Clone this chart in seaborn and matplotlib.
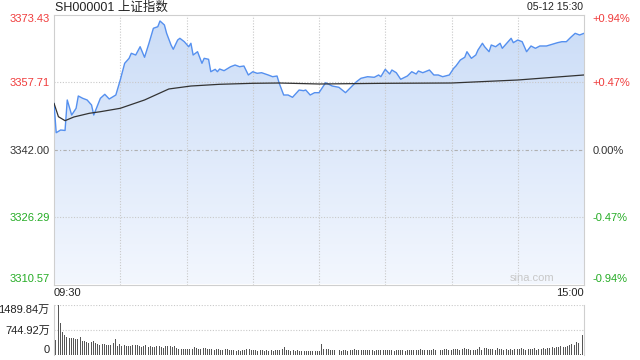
import numpy as np
import pandas as pd
import matplotlib
matplotlib.use("Agg")
import matplotlib.pyplot as plt
from matplotlib.patches import PathPatch
from matplotlib.colors import LinearSegmentedColormap
import seaborn as sns

# ---------------- data ----------------
title = "SH000001 上证指数"
stamp = "05-12 15:30"
prev_close = 3342.00
y_ticks = [3310.57, 3326.29, 3342.00, 3357.71, 3373.43]
y_tick_labels = ["3310.57", "3326.29", "3342.00", "3357.71", "3373.43"]
pct_labels = ["-0.94%", "-0.47%", "0.00%", "+0.47%", "+0.94%"]
time_labels = ["09:30", "15:00"]
vol_ticks = [0, 744.92, 1489.84]
vol_tick_labels = ["0", "744.92万", "1489.84万"]

price_min = [0, 1, 3, 5, 6, 8, 10, 11, 13, 15, 17, 18, 21, 23, 25, 28, 30, 32, 34, 35,
             37, 39, 41, 43, 45, 47, 48, 50, 51, 53, 54, 56, 57, 59, 61, 62, 63, 65, 67, 68,
             70, 71, 73, 74, 75, 77, 80, 82, 84, 86, 88, 90, 92, 94, 97, 99, 101, 102, 104, 106,
             108, 111, 113, 114, 116, 118, 120, 123, 126, 129, 132, 135, 137, 139, 142, 145, 147, 148, 150, 152,
             153, 155, 157, 160, 162, 164, 165, 167, 170, 172, 174, 176, 179, 181, 182, 184, 186, 187, 189, 191,
             192, 194, 195, 197, 198, 200, 202, 203, 205, 207, 208, 210, 212, 214, 216, 218, 220, 223, 226, 228,
             230, 232, 234, 236, 238, 240]
price_val = [3352.76, 3345.91, 3346.54, 3346.43, 3353.53, 3350.03, 3351.59, 3354.46, 3353.92, 3353.53,
             3352.36, 3350.03, 3353.92, 3354.85, 3353.76, 3354.69, 3358.18, 3362.07, 3363.23, 3364.40,
             3364.00, 3365.93, 3363.47, 3366.73, 3370.22, 3370.59, 3371.92, 3370.99, 3369.05, 3366.33,
             3365.33, 3367.49, 3367.89, 3367.10, 3365.93, 3366.73, 3364.00, 3364.77, 3362.07, 3363.23,
             3363.00, 3360.11, 3360.67, 3360.11, 3360.74, 3360.35, 3361.28, 3361.67, 3361.28, 3361.44,
             3359.35, 3360.11, 3359.74, 3359.88, 3359.35, 3358.95, 3359.11, 3357.41, 3354.69, 3354.69,
             3354.15, 3355.85, 3355.69, 3355.85, 3354.69, 3355.23, 3355.23, 3357.55, 3356.78, 3356.48,
             3355.23, 3356.78, 3357.79, 3358.58, 3358.95, 3358.81, 3359.35, 3358.95, 3360.67, 3359.58,
             3360.51, 3359.88, 3358.35, 3359.11, 3360.11, 3359.58, 3360.28, 3359.88, 3360.51, 3359.35,
             3359.35, 3358.95, 3359.35, 3360.91, 3361.44, 3362.84, 3363.47, 3364.77, 3363.23, 3364.00,
             3365.17, 3366.73, 3365.93, 3364.77, 3366.33, 3365.93, 3366.73, 3365.56, 3366.73, 3367.89,
             3366.87, 3367.49, 3367.10, 3364.77, 3366.10, 3365.56, 3366.10, 3366.10, 3366.56, 3366.87,
             3367.10, 3367.10, 3368.12, 3369.05, 3368.66, 3369.05]

avg_min = [0, 2, 5, 9, 16, 21, 30, 41, 52, 62, 75, 90, 102, 120, 150, 180, 210, 240]
avg_val = [3352.76, 3349.64, 3348.71, 3349.57, 3350.43, 3350.80, 3351.59, 3353.53, 3356.09,
           3356.78, 3357.18, 3357.41, 3357.48, 3357.25, 3357.41, 3357.48, 3358.18, 3359.35]

vol_min = list(range(241))
vol_val = [447, 1490, 944, 676, 606, 546, 506, 497, 497, 477,
           470, 546, 427, 407, 377, 357, 397, 427, 357, 328,
           308, 318, 328, 300, 290, 295, 348, 487, 280, 330,
           260, 300, 280, 255, 270, 290, 300, 310, 270, 250,
           280, 290, 250, 280, 250, 230, 260, 270, 240, 215,
           270, 280, 260, 250, 270, 200, 190, 185, 180, 185,
           175, 180, 190, 230, 215, 170, 180, 200, 210, 175,
           165, 170, 160, 175, 190, 150, 160, 170, 180, 160,
           140, 135, 130, 145, 130, 140, 150, 185, 170, 160,
           140, 135, 130, 140, 135, 130, 145, 130, 140, 130,
           150, 140, 145, 165, 230, 145, 135, 130, 140, 130,
           135, 125, 130, 120, 125, 130, 120, 115, 130, 125,
           120, 330, 180, 170, 185, 150, 160, 145, 175, 140,
           130, 135, 140, 125, 150, 140, 165, 145, 150, 135,
           160, 150, 140, 135, 145, 130, 150, 155, 140, 160,
           145, 135, 140, 150, 130, 145, 140, 135, 150, 130,
           140, 155, 145, 160, 150, 140, 165, 150, 145, 155,
           135, 150, 170, 160, 150, 140, 145, 165, 180, 155,
           160, 170, 175, 165, 150, 180, 200, 185, 170, 150,
           145, 160, 190, 230, 160, 200, 210, 180, 190, 170,
           160, 195, 180, 170, 150, 170, 160, 180, 150, 170,
           190, 165, 200, 175, 160, 170, 175, 165, 195, 160,
           170, 185, 200, 190, 210, 220, 240, 210, 250, 230,
           260, 240, 250, 280, 300, 320, 310, 400, 360, 40,
           606]

# ---------------- style ----------------
sns.set_theme(style="white")
plt.rcParams["font.family"] = ["Liberation Sans", "Noto Sans CJK SC", "DejaVu Sans"]

RED = "#f03c3c"
GREEN = "#25ac25"
GRID = "#c9c9c9"
SPINE = "#cfcfcf"
LINE = "#5590ef"

W, H = 640, 360
fig = plt.figure(figsize=(6.4, 3.6), dpi=100)
ax = fig.add_axes([54 / W, 1 - 284.5 / H, 530 / W, 270 / H])
axv = fig.add_axes([54 / W, 1 - 355 / H, 530 / W, 50 / H])

price_df = pd.DataFrame({"minute": price_min, "price": price_val})
avg_df = pd.DataFrame({"minute": avg_min, "avg": avg_val})
vol_df = pd.DataFrame({"minute": vol_min, "vol": vol_val})

ymin, ymax = y_ticks[0], y_ticks[-1]
ax.set_xlim(0, 240)
ax.set_ylim(ymin, ymax)

# gradient fill under price line
fb = ax.fill_between(price_df["minute"], price_df["price"], ymin,
                     facecolor="none", edgecolor="none")
patch = PathPatch(fb.get_paths()[0], transform=ax.transData,
                  facecolor="none", edgecolor="none")
ax.add_patch(patch)
cmap = LinearSegmentedColormap.from_list("g", ["#f3f7fe", "#cadcf7"])
grad = np.linspace(0, 1, 256).reshape(-1, 1)
im = ax.imshow(grad, cmap=cmap, origin="lower", aspect="auto",
               extent=[0, 240, ymin, ymax], zorder=1)
im.set_clip_path(patch)

# grid
for m in range(30, 240, 30):
    ax.axvline(m, color=GRID, lw=0.8, ls=(0, (1, 1.5)), zorder=2)
for v in [y_ticks[1], y_ticks[3]]:
    ax.axhline(v, color=GRID, lw=0.8, ls=(0, (1, 1.5)), zorder=2)
ax.axhline(prev_close, color="#b0b0b0", lw=0.8, ls=(0, (3, 2, 1, 2)), zorder=2)

sns.lineplot(data=price_df, x="minute", y="price", ax=ax, color=LINE,
             lw=1.0, zorder=4, estimator=None)
sns.lineplot(data=avg_df, x="minute", y="avg", ax=ax, color="#333333",
             lw=0.9, zorder=5, estimator=None)

ax.set_xlabel("")
ax.set_ylabel("")
for s in ax.spines.values():
    s.set_color(SPINE)
    s.set_linewidth(0.8)

ax.set_yticks(y_ticks)
ax.set_yticklabels(y_tick_labels, fontsize=8)
ax.tick_params(axis="y", length=0, pad=3)
colors = [GREEN, GREEN, "#333333", RED, RED]
for lab, c in zip(ax.get_yticklabels(), colors):
    lab.set_color(c)
labs = ax.get_yticklabels()
labs[0].set_va("bottom")
labs[-1].set_va("top")

axr = ax.twinx()
axr.set_ylim(ymin, ymax)
axr.set_yticks(y_ticks)
axr.set_yticklabels(pct_labels, fontsize=8)
axr.tick_params(axis="y", length=0, pad=6)
for lab, c in zip(axr.get_yticklabels(), colors):
    lab.set_color(c)
rl = axr.get_yticklabels()
rl[0].set_va("bottom")
rl[-1].set_va("top")
for s in axr.spines.values():
    s.set_visible(False)
axr.grid(False)

ax.set_xticks([0, 240])
ax.set_xticklabels(time_labels, fontsize=8, color="#222222")
ax.tick_params(axis="x", length=0, pad=2.5)
xl = ax.get_xticklabels()
xl[0].set_ha("left")
xl[1].set_ha("right")

ax.text(0.945, 0.005, "sina.com", transform=ax.transAxes, ha="right",
        va="bottom", fontsize=8, color="#c8c8c8", zorder=6)

# volume panel
sns.barplot(data=vol_df, x="minute", y="vol", ax=axv, native_scale=True,
            color="#555555", width=0.45, linewidth=0, saturation=1, errorbar=None)
axv.set_xlim(-0.9, 240.5)
axv.set_ylim(0, vol_ticks[-1])
axv.set_xlabel("")
axv.set_ylabel("")
axv.set_xticks([])
for v in vol_ticks[1:]:
    axv.axhline(v, color=GRID, lw=0.8, ls=(0, (1, 1.5)), zorder=0)
axv.spines["top"].set_visible(False)
axv.spines["bottom"].set_visible(False)
axv.spines["left"].set_color(SPINE)
axv.spines["right"].set_color(SPINE)
axv.spines["left"].set_linewidth(0.8)
axv.spines["right"].set_linewidth(0.8)
axv.set_yticks(vol_ticks)
axv.set_yticklabels(vol_tick_labels, fontsize=8, color="#222222")
axv.tick_params(axis="y", length=0, pad=3)
vl = axv.get_yticklabels()
vl[0].set_va("bottom")
vl[-1].set_va("top")

fig.text(55 / W, 1 - 7.5 / H, title, ha="left", va="center", fontsize=9, color="#222222")
fig.text(583 / W, 1 - 7.5 / H, stamp, ha="right", va="center", fontsize=7.6, color="#222222")

fig.savefig("out.png", dpi=100, facecolor="white")
